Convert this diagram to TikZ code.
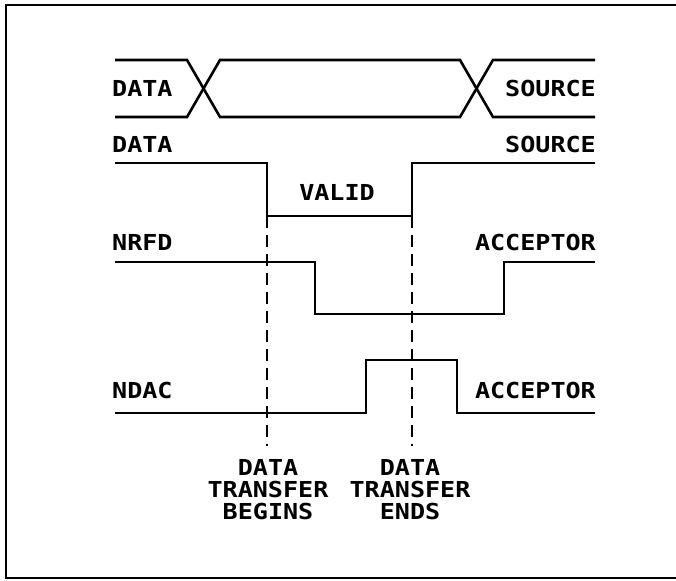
\documentclass[tikz,border=0pt]{standalone}
\usepackage{fontspec}
\newfontfamily\plotfont[FakeStretch=1.14]{DejaVu Sans Mono}
\begin{document}
\begin{tikzpicture}[x=1pt,y=-1pt,
  sig/.style={line width=2.6pt, line join=miter},
  frame/.style={line width=2.4pt},
  lbl/.style={font=\plotfont\bfseries\fontsize{22}{24}\selectfont, inner sep=0pt},
  guide/.style={line width=2.6pt, dash pattern=on 12pt off 7pt}]
\useasboundingbox (0,0) rectangle (676,580);
% frame
\draw[frame] (676,5) -- (6,5) -- (6,578) -- (676,578);

% ---- DATA bus (top) ----
\coordinate (b1) at (115,60);
\coordinate (b2) at (115,117);
\draw[sig] (b1) -- (187,60) -- (220,117) -- (460,117) -- (493,60) -- (595,60);
\draw[sig] (b2) -- (187,117) -- (220,60) -- (460,60) -- (493,117) -- (595,117);
\node[lbl, anchor=base west] (busL) at (112,97) {DATA};
\node[lbl, anchor=base east] (busR) at (596,97) {SOURCE};

% ---- DATA valid ----
\coordinate (d0) at (115,163);
\coordinate (dfall) at (267,163);
\coordinate (dlow1) at (267,216);
\coordinate (dlow2) at (412,216);
\coordinate (drise) at (412,163);
\coordinate (d1) at (595,163);
\draw[sig] (d0) -- (dfall) -- (dlow1) -- (dlow2) -- (drise) -- (d1);
\node[lbl, anchor=base west] (dataL) at (112,152.5) {DATA};
\node[lbl, anchor=base east] (dataR) at (596,152.5) {SOURCE};
\node[lbl, anchor=base] (valid) at (337,200) {VALID};

% ---- NRFD ----
\coordinate (n0) at (115,262);
\coordinate (n1) at (315,262);
\coordinate (n2) at (315,314);
\coordinate (n3) at (504,314);
\coordinate (n4) at (504,262);
\coordinate (n5) at (595,262);
\draw[sig] (n0) -- (n1) -- (n2) -- (n3) -- (n4) -- (n5);
\node[lbl, anchor=base west] (nrfdL) at (112,250) {NRFD};
\node[lbl, anchor=base east] (nrfdR) at (596,250) {ACCEPTOR};

% ---- NDAC ----
\coordinate (a0) at (115,413);
\coordinate (a1) at (366,413);
\coordinate (a2) at (366,360);
\coordinate (a3) at (457,360);
\coordinate (a4) at (457,413);
\coordinate (a5) at (595,413);
\draw[sig] (a0) -- (a1) -- (a2) -- (a3) -- (a4) -- (a5);
\node[lbl, anchor=base west] (ndacL) at (112,398) {NDAC};
\node[lbl, anchor=base east] (ndacR) at (596,398) {ACCEPTOR};

% ---- guide lines ----
\coordinate (g1e) at (267,446);
\coordinate (g2e) at (412,446);
\draw[guide] (dlow1) -- (g1e);
\draw[guide] (dlow2) -- (g2e);

% ---- bottom labels ----
\node[lbl, anchor=base] (beg1) at (268,475.5) {DATA};
\node[lbl, anchor=base] (beg2) at (268,497.5) {TRANSFER};
\node[lbl, anchor=base] (beg3) at (268,519.5) {BEGINS};
\node[lbl, anchor=base] (end1) at (410,475.5) {DATA};
\node[lbl, anchor=base] (end2) at (410,497.5) {TRANSFER};
\node[lbl, anchor=base] (end3) at (410,519.5) {ENDS};
\end{tikzpicture}
\end{document}
